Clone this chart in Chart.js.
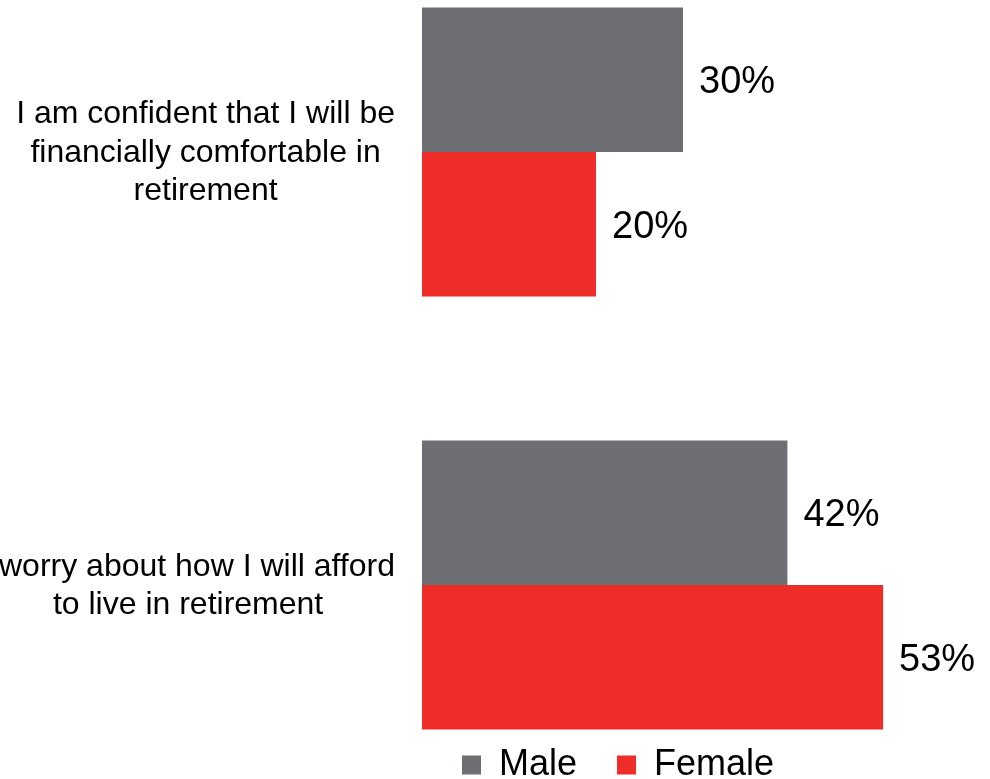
<!DOCTYPE html>
<html>
<head>
<meta charset="utf-8">
<script src="https://cdn.jsdelivr.net/npm/chart.js@4/dist/chart.umd.min.js"></script>
<style>
    html, body { margin: 0; padding: 0; background: #fff; }
    #wrap { position: relative; width: 990px; height: 779px; }
</style>
</head>
<body>
<div id="wrap"><canvas id="chart"></canvas></div>
<script>
const categories = [
    ['I am confident that I will be', 'financially comfortable in', 'retirement'],
    ['I worry about how I will afford', 'to live in retirement']
]
const seriesNames = ['Male', 'Female']
const maleValues = [30, 42]
const femaleValues = [20, 53]
const seriesColors = ['#6d6e71', '#ee2d29']

const FONT = '"Liberation Sans", Arial, sans-serif'

// multi-line category labels, each block right-aligned to the plot with its lines centred
const categoryLabels = {
    id: 'categoryLabels',
    afterDraw(chart) {
        const { ctx, chartArea, scales: { y } } = chart
        const lineHeight = 38.5
        ctx.save()
        ctx.font = '32px ' + FONT
        ctx.fillStyle = '#000'
        ctx.textAlign = 'center'
        ctx.textBaseline = 'middle'
        chart.data.labels.forEach((lines, i) => {
            const widest = Math.max(...lines.map(l => ctx.measureText(l).width))
            const cx = chartArea.left - 27 - widest / 2
            const y0 = y.getPixelForTick(i) + 1 - (lines.length - 1) * lineHeight / 2
            lines.forEach((line, j) => ctx.fillText(line, cx, y0 + j * lineHeight))
        })
        ctx.restore()
    }
}

// percentage next to the end of each bar
const valueLabels = {
    id: 'valueLabels',
    afterDatasetsDraw(chart) {
        const { ctx } = chart
        ctx.save()
        ctx.font = '38px ' + FONT
        ctx.fillStyle = '#000'
        ctx.textAlign = 'left'
        ctx.textBaseline = 'middle'
        chart.data.datasets.forEach((ds, d) => {
            chart.getDatasetMeta(d).data.forEach((bar, i) => {
                ctx.fillText(ds.data[i] + '%', bar.x + 16, bar.y + 3)
            })
        })
        ctx.restore()
    }
}

new Chart(document.getElementById('chart'), {
    type: 'bar',
    data: {
        labels: categories,
        datasets: [
            { label: seriesNames[0], data: maleValues, backgroundColor: seriesColors[0] },
            { label: seriesNames[1], data: femaleValues, backgroundColor: seriesColors[1] }
        ]
    },
    options: {
        indexAxis: 'y',
        responsive: true,
        maintainAspectRatio: false,
        animation: false,
        layout: {
            padding: { top: 152, left: 422, right: 46, bottom: -14 }
        },
        datasets: {
            bar: {
                barPercentage: 1,
                categoryPercentage: 0.668,
                borderWidth: 0,
                clip: false
            }
        },
        scales: {
            x: {
                min: 0,
                max: 60,
                display: true,
                grid: { display: false, drawTicks: false },
                border: { display: false },
                ticks: { display: false },
                afterFit(scale) {
                    scale.height = 122
                }
            },
            y: {
                display: false,
                offset: false
            }
        },
        plugins: {
            legend: {
                position: 'bottom',
                align: 'start',
                labels: {
                    boxWidth: 19,
                    boxHeight: 19,
                    padding: 40,
                    color: '#000',
                    font: { family: FONT, size: 36 }
                }
            },
            tooltip: { enabled: false }
        }
    },
    plugins: [categoryLabels, valueLabels]
})
</script>
</body>
</html>
